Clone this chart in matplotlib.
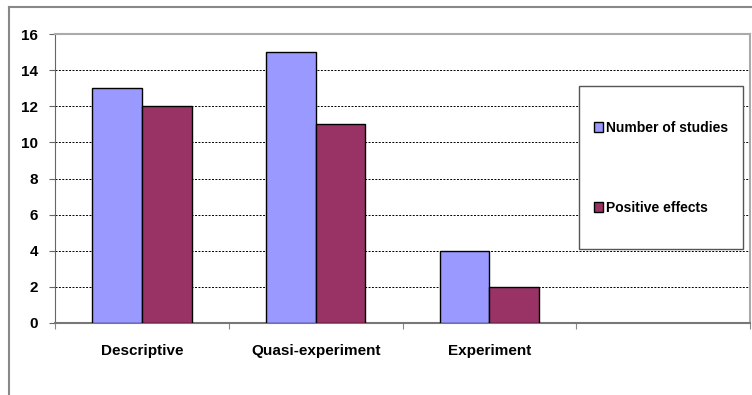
import numpy as np
import matplotlib
matplotlib.use("Agg")
import matplotlib.pyplot as plt
from matplotlib.lines import Line2D
from matplotlib.patches import Rectangle

categories = ["Descriptive", "Quasi-experiment", "Experiment", ""]
n_studies = [13, 15, 4]
positive = [12, 11, 2]
yticks = [0, 2, 4, 6, 8, 10, 12, 14, 16]

plt.rcParams['font.family'] = ['Liberation Sans', 'DejaVu Sans']

W, H = 752, 395
fig = plt.figure(figsize=(W / 100, H / 100), dpi=100)

# outer chart frame (top and left edges visible)
fig.add_artist(Line2D([9 / W, 1], [1 - 7 / H, 1 - 7 / H], transform=fig.transFigure,
                      color='#888888', lw=1.5))
fig.add_artist(Line2D([9 / W, 9 / W], [0, 1 - 7 / H], transform=fig.transFigure,
                      color='#888888', lw=1.5))

ax = fig.add_axes([55 / W, 72 / H, 695 / W, 289 / H])

x = np.arange(len(n_studies))
bw = 0.286
b1 = ax.bar(x - bw / 2, n_studies, bw, color='#9999ff', edgecolor='black', lw=1,
            label='Number of studies', zorder=3)
b2 = ax.bar(x + bw / 2, positive, bw, color='#993366', edgecolor='black', lw=1,
            label='Positive effects', zorder=3)

ax.set_xlim(-0.5, len(categories) - 0.5)
ax.set_ylim(0, 16)
ax.set_yticks(yticks)
ax.set_yticklabels([str(t) for t in yticks], fontsize=11, fontweight='bold')
for t in yticks[1:-1]:
    ax.axhline(t, color='black', lw=0.7, ls=(0, (2, 1.5)), zorder=1)

# category labels centred in slots, ticks at slot boundaries
ax.set_xticks(np.arange(len(categories) + 1) - 0.5)
ax.set_xticklabels([])
ax.set_xticks(np.arange(len(categories)), minor=True)
ax.set_xticklabels(categories, minor=True, fontsize=11, fontweight='bold')
ax.tick_params(axis='x', which='minor', length=0, pad=15)
ax.tick_params(axis='x', which='major', length=4, color='#888888')
ax.tick_params(axis='y', length=4, color='#666666', pad=8)

ax.spines['left'].set_color('#666666')
ax.spines['bottom'].set_color('#777777')
ax.spines['bottom'].set_linewidth(1.5)
ax.spines['top'].set_color('#aaaaaa')
ax.spines['right'].set_color('#aaaaaa')
ax.spines['top'].set_linewidth(1.5)
ax.spines['right'].set_linewidth(1.5)

# legend box (Excel style: tall box, entries spread vertically)
box = Rectangle((579 / W, 1 - 249 / H), 164 / W, 163 / H, transform=fig.transFigure,
                facecolor='white', edgecolor='#555555', lw=1, zorder=4)
fig.add_artist(box)
leg = fig.legend(handles=[b1, b2], loc='center',
                 bbox_to_anchor=(661 / W, 1 - 168 / H),
                 prop={'size': 10, 'weight': 'bold'}, frameon=False,
                 handlelength=0.7, handleheight=0.7, handletextpad=0.2,
                 labelspacing=4.75, borderpad=0)
leg.set_zorder(5)
for p in leg.get_patches():
    p.set_linewidth(1)

fig.savefig('out.png', dpi=100)
